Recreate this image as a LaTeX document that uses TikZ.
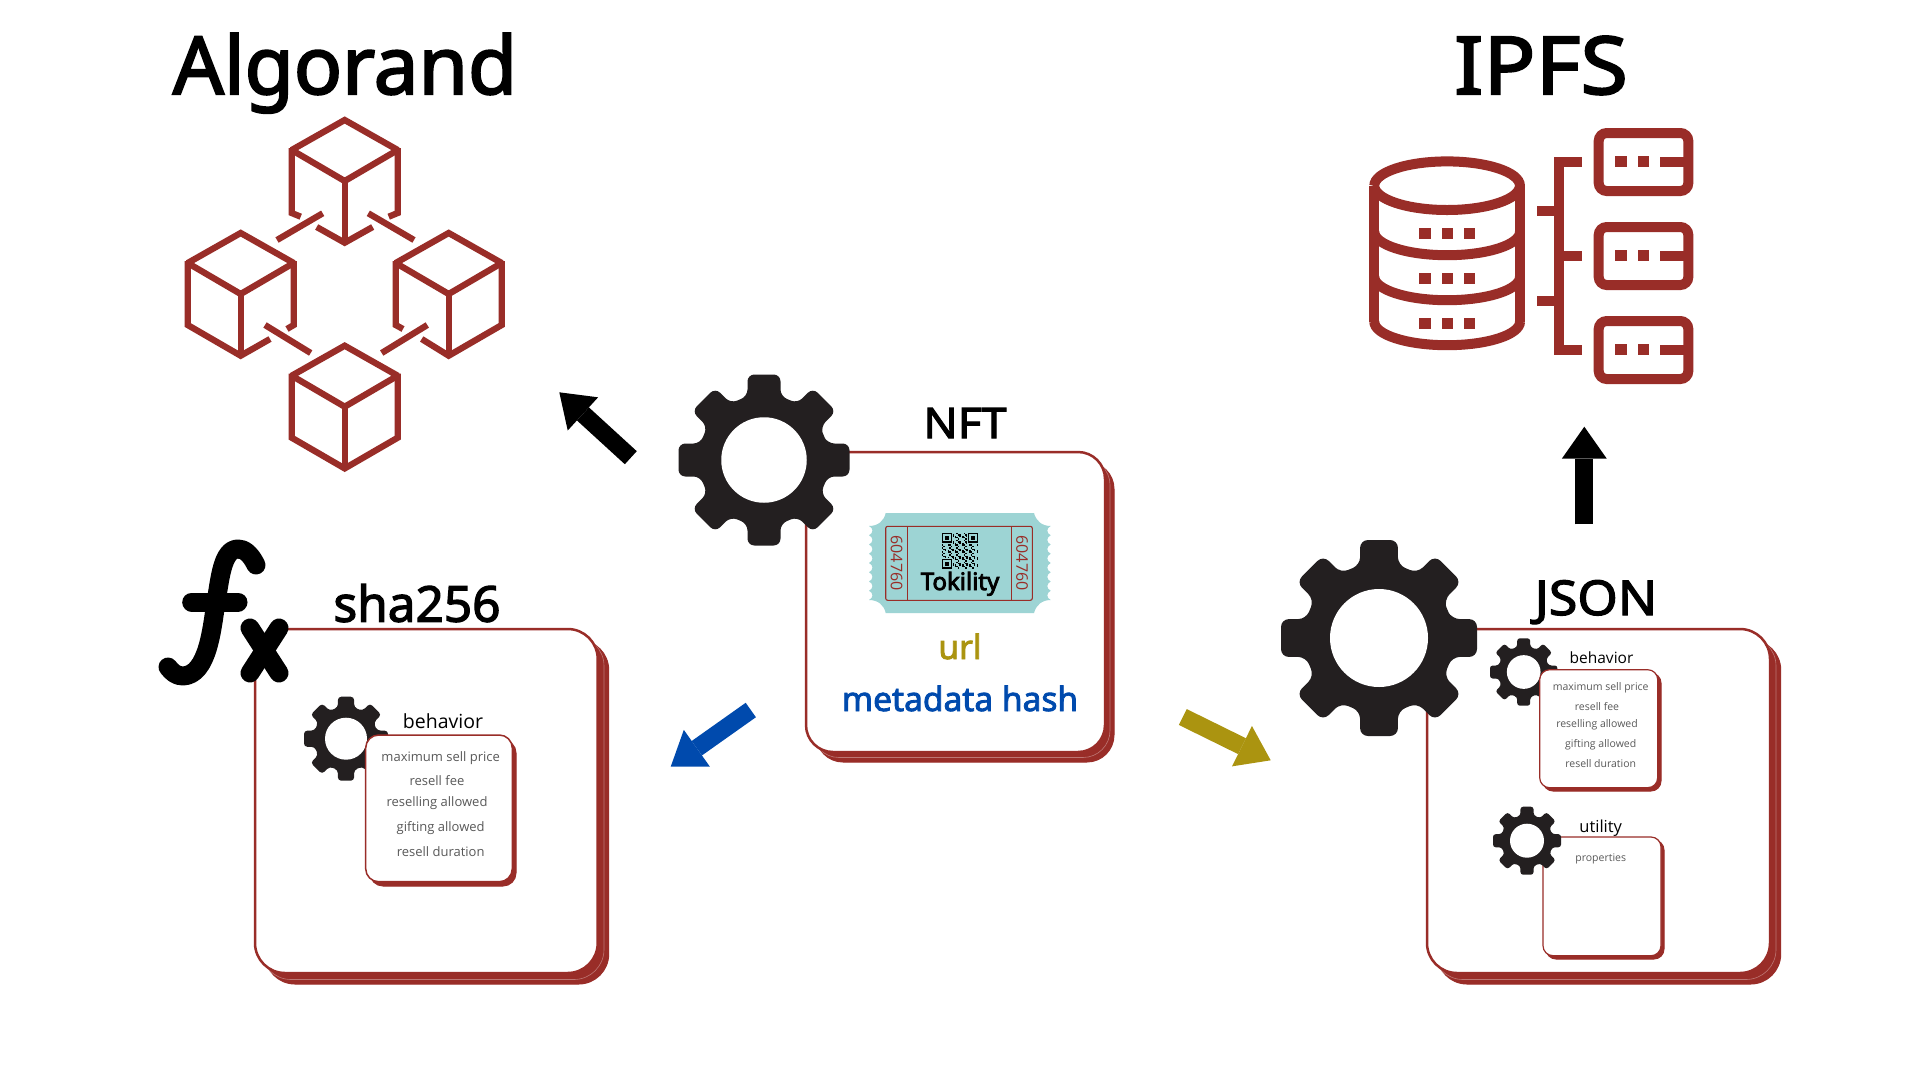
\documentclass[tikz,border=0pt]{standalone}
\usepackage{fontspec}
\usetikzlibrary{arrows.meta}
\newfontfamily\headfont[FakeBold=2.5]{Noto Sans}
\newfontfamily\wideheadfont[FakeBold=2.5,FakeStretch=1.08]{Noto Sans}
\newfontfamily\boldfont[FakeBold=3.5]{Noto Sans}
\newfontfamily\labelfont{Open Sans}
\definecolor{brick}{HTML}{992D28}
\definecolor{gearblack}{HTML}{231F20}
\definecolor{tickteal}{HTML}{9DD4D4}
\definecolor{urlgold}{HTML}{AB9410}
\definecolor{hashblue}{HTML}{004AAD}
\tikzset{
  heading/.style={font=\headfont\fontsize{#1}{#1}\selectfont,anchor=base,inner sep=0pt},
  wideheading/.style={font=\wideheadfont\fontsize{#1}{#1}\selectfont,anchor=base,inner sep=0pt},
  smalltext/.style={font=\labelfont\fontsize{#1}{#1}\selectfont,text=black!65,inner sep=0pt},
  sublabel/.style={font=\labelfont\fontsize{#1}{#1}\selectfont,inner sep=0pt},
  ticketdigits/.style={font=\labelfont\fontsize{16}{16}\selectfont,text=brick,rotate=-90,inner sep=0pt},
  redline/.style={draw=brick,line width=6.3pt,line join=miter,miter limit=1.5},
  ipfsline/.style={draw=brick,line width=10pt,line join=miter},
  ipfsdot/.style={fill=brick},
  cardline/.style={draw=brick,fill=white,line width=2.5pt},
  cardshadow/.style={draw=brick,fill=brick,line width=1pt},
  cardstripe/.style={draw=brick!65!white,line width=0.6pt},
  fatarrow/.style={line width=17.7pt,-{Triangle[length=32pt,width=45pt,line width=0pt,sep=0pt]}},
  fxstroke/.style={draw=black,line width=19pt,line cap=round,line join=round}
}
%gear: centre, radius
\newcommand{\gearicon}[2]{%
  \begin{scope}[shift={(#1)},x=#2pt,y=#2pt]
    \fill[gearblack,rounded corners=0.08*#2pt] (-22.5:0.75) foreach \a in {0,45,...,315} { -- ([rotate=\a]0.745,-0.193) -- ([rotate=\a]1,-0.193) -- ([rotate=\a]1,0.193) -- ([rotate=\a]0.745,0.193) } -- cycle;
    \fill[white] (0,0) circle (0.5);
  \end{scope}}
%top face and middle edge of one cube, from its apex
\newcommand{\cubetop}[1]{%
  \begin{scope}[shift={(#1)}]
    \draw[redline] (0,0) -- (53,30) -- (0,61) -- (-53,30) -- cycle;
    \draw[redline] (0,61) -- (0,122.7);
  \end{scope}}
%server box of the IPFS icon
\newcommand{\serverbox}[1]{%
  \begin{scope}[yshift=#1]
    \draw[ipfsline,rounded corners=8pt] (1598.7,133) rectangle (1688.3,191);
    \fill[ipfsdot] (1615.4,156) rectangle (1626.6,167.3);
    \fill[ipfsdot] (1637.7,156) rectangle (1648.9,167.3);
    \draw[ipfsline] (1660,161.7) -- (1688.3,161.7);
  \end{scope}}
\begin{document}
\begin{tikzpicture}[x=1pt,y=1pt,yscale=-1]
\useasboundingbox (0,0) rectangle (1920,1080);
\fill[white] (0,0) rectangle (1920,1080);

% Text Node
\node[heading=80] (algorandTitle) at (345,94) {Algorand};
\node[wideheading=80] (ipfsTitle) at (1541,94) {IPFS};

%Algorand cubes
\cubetop{344.7,120}
\cubetop{240.7,233}
\cubetop{448.7,233}
\cubetop{344.7,345.7}
%top cube sides
\draw[redline] (291.7,148) -- (291.7,213) -- (300.7,216.7);
\draw[redline] (397.7,148) -- (397.7,213) -- (388.7,216.7);
\draw[redline] (316.7,227) -- (344.7,242.7) -- (372.7,227);
\draw[redline] (277,240) -- (322.7,213.3);
\draw[redline] (368.3,213.3) -- (414,240);
%left cube sides
\draw[redline] (187.7,261) -- (187.7,325) -- (240.7,355.7) -- (270,339);
\draw[redline] (293.7,261) -- (293.7,325) -- (287,329);
\draw[redline] (265,325) -- (310.7,353);
%right cube sides
\draw[redline] (395.7,261) -- (395.7,325) -- (403,329);
\draw[redline] (501.7,261) -- (501.7,325) -- (448.7,355.7) -- (421.7,339);
\draw[redline] (427.3,325) -- (381.7,353);
%bottom cube sides
\draw[redline] (291.7,373.7) -- (291.7,437.7) -- (344.7,468.4) -- (397.7,437.7) -- (397.7,373.7);

%IPFS cylinder
\draw[ipfsline] (1374.3,185.7) arc[start angle=180,end angle=-180,x radius=72.8,y radius=24.3];
\draw[ipfsline] (1374.3,185.7) -- (1374.3,321.7);
\draw[ipfsline] (1520,185.7) -- (1520,321.7);
\foreach \y in {231.7,276.7,321.7}{
  \draw[ipfsline] (1374.3,\y) arc[start angle=180,end angle=360,x radius=72.85,y radius=-23.5];
  \foreach \x in {1425,1447.3,1469.7}{
    \fill[ipfsdot] (\x-5.6,\y-3.6) rectangle (\x+5.6,\y+7.6);
  }
}
%IPFS bracket
\draw[ipfsline] (1581.7,161.7) -- (1559.3,161.7) -- (1559.3,350) -- (1581.7,350);
\draw[ipfsline] (1559.3,256) -- (1581.7,256);
\draw[ipfsline] (1537,211.3) -- (1559.3,211.3);
\draw[ipfsline] (1537,301) -- (1559.3,301);
\serverbox{0pt}
\serverbox{94pt}
\serverbox{188pt}

%sha256 card
\draw[cardshadow,rounded corners=30pt] (265,640) rectangle (608.7,984);
\draw[cardstripe,rounded corners=30pt] (261,636) rectangle (604,979.5);
\draw[cardline,rounded corners=30pt] (255,629) rectangle (597.7,973);
\node[heading=49.5] (shaTitle) at (417,621.7) {sha256};
\node[sublabel=19.5] (shaBehavior) at (443,721.5) {behavior};
\gearicon{346,738.7}{42}
\draw[cardshadow,rounded corners=13pt] (370,740) rectangle (516,886);
\draw[cardline,line width=1.5pt,rounded corners=13pt] (365.7,735) rectangle (512.3,881.7);
\node[smalltext=13] (shaPrice) at (440.7,758.5) {maximum sell price};
\node[smalltext=13] (shaFee) at (437,781) {resell fee};
\node[smalltext=13] (shaSelling) at (437,803.5) {reselling allowed};
\node[smalltext=13] (shaGifting) at (440.7,828.5) {gifting allowed};
\node[smalltext=13] (shaDuration) at (440.7,852) {resell duration};
%fx sign
\draw[fxstroke] (256,565) .. controls (250,553) and (244,549) .. (238,549) .. controls (222,549) and (220,580) .. (216,602) .. controls (212,628) and (208,675) .. (183,676) .. controls (176,676) and (172,672) .. (168,667);
\draw[fxstroke] (191.7,602) -- (238,602);
\draw[fxstroke] (250,628) -- (279,673);
\draw[fxstroke] (279,628) -- (250,673);

%NFT card
\draw[cardshadow,rounded corners=27pt] (816,462) rectangle (1114,762);
\draw[cardstripe,rounded corners=27pt] (812,458) rectangle (1110,757.5);
\draw[cardline,rounded corners=27pt] (806,452) rectangle (1105,752);
\gearicon{764,460}{85.5}
\node[wideheading=42] (nftTitle) at (965,438) {NFT};
%ticket
\fill[tickteal] (885.7,513) -- (1034,513) .. controls (1036,521) and (1042,526) .. (1050.7,526)
  foreach \k in {0,...,7} { .. controls +(-4.5,2) and +(-4.5,-2) .. ++(0,9.25) }
  .. controls (1042,600) and (1036,605) .. (1034,613) -- (885.7,613) .. controls (884,605) and (878,600) .. (869,600)
  foreach \k in {0,...,7} { .. controls +(4.5,-2) and +(4.5,2) .. ++(0,-9.25) }
  .. controls (878,526) and (884,521) .. (885.7,513) -- cycle;
\draw[brick,line width=1.1pt,rounded corners=2pt] (885.7,526.3) rectangle (1032.3,600.3);
\draw[brick,line width=1.1pt] (907.7,526.3) -- (907.7,600.3);
\draw[brick,line width=1.1pt] (1011.3,526.3) -- (1011.3,600.3);
\node[ticketdigits] (ticketLeft) at (896.7,563) {604760};
\node[ticketdigits] (ticketRight) at (1022,563) {604760};
%qr code
\begin{scope}[shift={(942,532.7)},x=1.44pt,y=1.44pt]
  \foreach \i in {0,...,24}{
    \foreach \j in {0,...,24}{
      \pgfmathtruncatemacro\qrbit{mod(\i*\i*3+\j*7+\i*\j,5)<2}
      \ifnum\qrbit=1 \fill[black] (\i,\j) rectangle +(1.02,1.02); \fi
    }
  }
  \foreach \u/\v in {0/0,18/0,0/18}{
    \fill[tickteal] (\u-0.5,\v-0.5) rectangle +(8,8);
    \fill[black] (\u,\v) rectangle +(7,7);
    \fill[tickteal] (\u+1,\v+1) rectangle +(5,5);
    \fill[black] (\u+2,\v+2) rectangle +(3,3);
  }
\end{scope}
\node[font=\boldfont\fontsize{24}{24}\selectfont,anchor=base,inner sep=0pt] (tokilityText) at (960,590) {Tokility};
\node[heading=33.5,text=urlgold] (urlText) at (960,659) {url};
\node[heading=33.5,text=hashblue] (hashText) at (960,711) {metadata hash};

%JSON card
\draw[cardshadow,rounded corners=30pt] (1437,640) rectangle (1780.7,984);
\draw[cardstripe,rounded corners=30pt] (1433,636) rectangle (1776,979.5);
\draw[cardline,rounded corners=30pt] (1427,629) rectangle (1770,973);
\gearicon{1379,638}{98}
\node[wideheading=48] (jsonTitle) at (1596,615) {JSON};
\node[sublabel=15.5] (jsonBehavior) at (1601.5,658) {behavior};
\gearicon{1523.7,672}{33.7}
\draw[cardshadow,rounded corners=10pt] (1543,673) rectangle (1661,791);
\draw[cardline,line width=1.2pt,rounded corners=10pt] (1539.7,669.7) rectangle (1657.7,787.7);
\node[smalltext=10.5] (jsonPrice) at (1600.7,688) {maximum sell price};
\node[smalltext=10.5] (jsonFee) at (1597,706.5) {resell fee};
\node[smalltext=10.5] (jsonSelling) at (1597,724.5) {reselling allowed};
\node[smalltext=10.5] (jsonGifting) at (1600.7,744.5) {gifting allowed};
\node[smalltext=10.5] (jsonDuration) at (1600.7,763.5) {resell duration};
\node[sublabel=16.5] (jsonUtility) at (1600.7,828) {utility};
\draw[cardshadow,rounded corners=10pt] (1546,840) rectangle (1664,959);
\draw[cardline,line width=1.2pt,rounded corners=10pt] (1543,837) rectangle (1661,955.7);
\gearicon{1527,840.7}{34}
\node[smalltext=10.5] (jsonProperties) at (1600.7,859) {properties};

%arrows
\coordinate (algoTail) at (630.8,457.7);
\coordinate (algoHead) at (559.3,392.3);
\coordinate (shaTail) at (750.8,710);
\coordinate (shaHead) at (670.7,766.7);
\coordinate (jsonTail) at (1182.8,717);
\coordinate (jsonHead) at (1270.7,760.3);
\coordinate (ipfsTail) at (1584.3,524.3);
\coordinate (ipfsHead) at (1584.3,426.7);
\draw[fatarrow,black] (algoTail) -- (algoHead);
\draw[fatarrow,hashblue] (shaTail) -- (shaHead);
\draw[fatarrow,urlgold] (jsonTail) -- (jsonHead);
\draw[fatarrow,black] (ipfsTail) -- (ipfsHead);

\end{tikzpicture}
\end{document}
